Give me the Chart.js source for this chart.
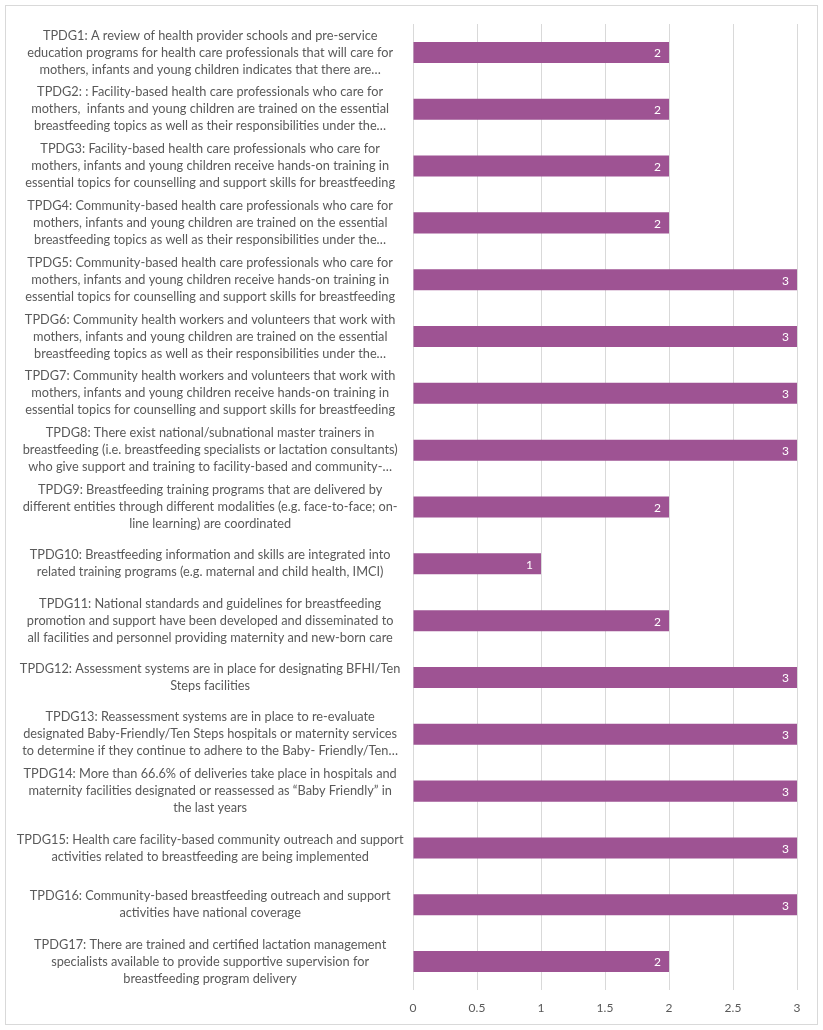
<!DOCTYPE html>
<html>
<head>
<meta charset="utf-8">
<script src="https://cdn.jsdelivr.net/npm/chart.js@4"></script>
<style>
  body { margin: 0; background: #fff; }
  #box { position: absolute; left: 5px; top: 5px; width: 811px; height: 1018px; border: 1px solid #d9d9d9; }
</style>
</head>
<body>
<div id="box"><canvas id="grafica" width="811" height="1018"></canvas></div>
<script>
// etiquetas (una linea por elemento, como en el original)
const categorias = [
  ["TPDG1: A review of health provider schools and pre-service", "education programs for health care professionals that will care for", "mothers, infants and young children indicates that there are…"],
  ["TPDG2: : Facility-based health care professionals who care for", "mothers,  infants and young children are trained on the essential", "breastfeeding topics as well as their responsibilities under the…"],
  ["TPDG3: Facility-based health care professionals who care for", "mothers, infants and young children receive hands-on training in", "essential topics for counselling and support skills for breastfeeding"],
  ["TPDG4: Community-based health care professionals who care for", "mothers, infants and young children are trained on the essential", "breastfeeding topics as well as their responsibilities under the…"],
  ["TPDG5: Community-based health care professionals who care for", "mothers, infants and young children receive hands-on training in", "essential topics for counselling and support skills for breastfeeding"],
  ["TPDG6: Community health workers and volunteers that work with", "mothers, infants and young children are trained on the essential", "breastfeeding topics as well as their responsibilities under the…"],
  ["TPDG7: Community health workers and volunteers that work with", "mothers, infants and young children receive hands-on training in", "essential topics for counselling and support skills for breastfeeding"],
  ["TPDG8: There exist national/subnational master trainers in", "breastfeeding (i.e. breastfeeding specialists or lactation consultants)", "who give support and training to facility-based and community-…"],
  ["TPDG9: Breastfeeding training programs that are delivered by", "different entities through different modalities (e.g. face-to-face; on-", "line learning) are coordinated"],
  ["TPDG10: Breastfeeding information and skills are integrated into", "related training programs (e.g. maternal and child health, IMCI)"],
  ["TPDG11: National standards and guidelines for breastfeeding", "promotion and support have been developed and disseminated to", "all facilities and personnel providing maternity and new-born care"],
  ["TPDG12: Assessment systems are in place for designating BFHI/Ten", "Steps facilities"],
  ["TPDG13: Reassessment systems are in place to re-evaluate", "designated Baby-Friendly/Ten Steps hospitals or maternity services", "to determine if they continue to adhere to the Baby- Friendly/Ten…"],
  ["TPDG14: More than 66.6% of deliveries take place in hospitals and", "maternity facilities designated or reassessed as “Baby Friendly” in", "the last years"],
  ["TPDG15: Health care facility-based community outreach and support", "activities related to breastfeeding are being implemented"],
  ["TPDG16: Community-based breastfeeding outreach and support", "activities have national coverage"],
  ["TPDG17: There are trained and certified lactation management", "specialists available to provide supportive supervision for", "breastfeeding program delivery"]
];

// puntajes
const puntajes = [2, 2, 2, 2, 3, 3, 3, 3, 2, 1, 2, 3, 3, 3, 3, 3, 2];

// eje X
const ejeMin = 0;
const ejeMax = 3;
const ejePaso = 0.5;

const fuente = "Lato, 'Open Sans', sans-serif";

// numeros blancos dentro de cada barra, al final
const etiquetasBarras = {
  id: "etiquetasBarras",
  afterDatasetsDraw(chart) {
    const ctx = chart.ctx;
    const meta = chart.getDatasetMeta(0);
    ctx.save();
    ctx.fillStyle = "#ffffff";
    ctx.font = "12px " + fuente;
    ctx.textAlign = "right";
    ctx.textBaseline = "middle";
    meta.data.forEach((barra, i) => {
      ctx.fillText(String(chart.data.datasets[0].data[i]), barra.x - 8, barra.y + 1);
    });
    ctx.restore();
  }
};

const ctx = document.getElementById("grafica").getContext("2d");
const grafica = new Chart(ctx, {
  type: "bar",
  data: {
    labels: categorias,
    datasets: [{
      data: puntajes,
      backgroundColor: "#9e5393",
      borderWidth: 0,
      categoryPercentage: 1,
      barPercentage: 0.37
    }]
  },
  options: {
    indexAxis: "y",
    responsive: false,
    animation: false,
    layout: { padding: { left: 0, right: 20, top: 18, bottom: 8 } },
    plugins: {
      legend: { display: false },
      tooltip: { enabled: false }
    },
    scales: {
      x: {
        min: ejeMin,
        max: ejeMax,
        ticks: {
          stepSize: ejePaso,
          color: "#595959",
          font: { family: fuente, size: 12 },
          padding: 11,
          callback: (v) => String(v)
        },
        grid: { color: "#d9d9d9", drawTicks: false },
        border: { display: false },
        afterFit(scale) { scale.height = 26; }
      },
      y: {
        ticks: {
          color: "#595959",
          font: { family: fuente, size: 12.75, lineHeight: 1.333 },
          crossAlign: "center",
          padding: 9.5,
          autoSkip: false
        },
        grid: { display: false, drawTicks: false },
        border: { display: false },
        // sin esto el primer y ultimo texto empujan el area de la grafica
        afterFit(scale) {
          scale.width = 407;
          scale.paddingTop = 0;
          scale.paddingBottom = 0;
        }
      }
    }
  },
  plugins: [etiquetasBarras]
});
</script>
</body>
</html>
